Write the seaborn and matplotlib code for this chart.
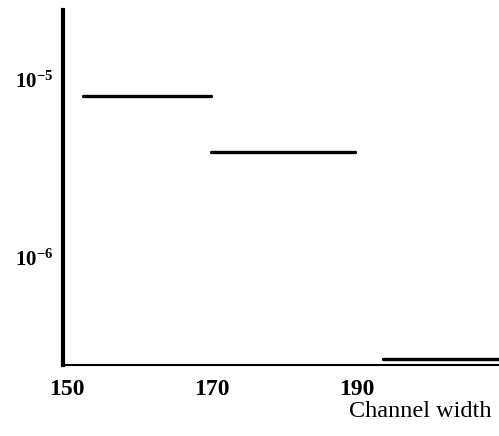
import numpy as np
import pandas as pd
import seaborn as sns
import matplotlib.pyplot as plt

# step segments: channel width interval -> value
seg_start = [152.2, 169.9, 193.6]
seg_end = [169.9, 189.8, 209.6]
seg_value = [8.1e-6, 3.9e-6, 2.7e-7]

x_ticks = [150, 170, 190]
y_ticks = [1e-5, 1e-6]
y_tick_labels = [r"$\mathregular{10^{-5}}$", r"$\mathregular{10^{-6}}$"]

sns.set_theme(style="white")
plt.rcParams['font.family'] = ['Liberation Serif', 'DejaVu Serif']
plt.rcParams['text.color'] = 'black'
plt.rcParams['xtick.color'] = 'black'
plt.rcParams['ytick.color'] = 'black'

rows = []
for i, (a, b, v) in enumerate(zip(seg_start, seg_end, seg_value)):
    rows.append({"seg": i, "width": a, "value": v})
    rows.append({"seg": i, "width": b, "value": v})
df = pd.DataFrame(rows)

fig = plt.figure(figsize=(4.99, 4.36), dpi=100)
ax = fig.add_axes([63 / 499, 71 / 436, 436 / 499, 355 / 436])

sns.lineplot(data=df, x="width", y="value", units="seg", estimator=None,
             color="black", linewidth=2.4, ax=ax, legend=False)

ax.set_yscale("log")
ax.set_xlim(149.45, 209.6)
ax.set_ylim(2.5e-7, 2.46e-5)

ax.set_xticks(x_ticks)
ax.set_xticklabels([str(t) for t in x_ticks], fontsize=17, fontweight="bold")
ax.set_yticks(y_ticks)
ax.set_yticklabels(y_tick_labels, fontsize=15, fontweight="bold")
ax.yaxis.set_minor_locator(plt.NullLocator())
ax.tick_params(axis="x", length=0, pad=10)
ax.tick_params(axis="y", length=0, pad=7)

sns.despine(ax=ax)
ax.spines["left"].set_linewidth(3)
ax.spines["bottom"].set_linewidth(1.5)
ax.spines["left"].set_color("black")
ax.spines["bottom"].set_color("black")

ax.set_xlabel("")
ax.set_ylabel("")
fig.text(420 / 499, 1 - 411 / 436, "Channel width", ha="center", va="center",
         fontsize=17.5, color="black")

fig.savefig("out.png", dpi=100)
